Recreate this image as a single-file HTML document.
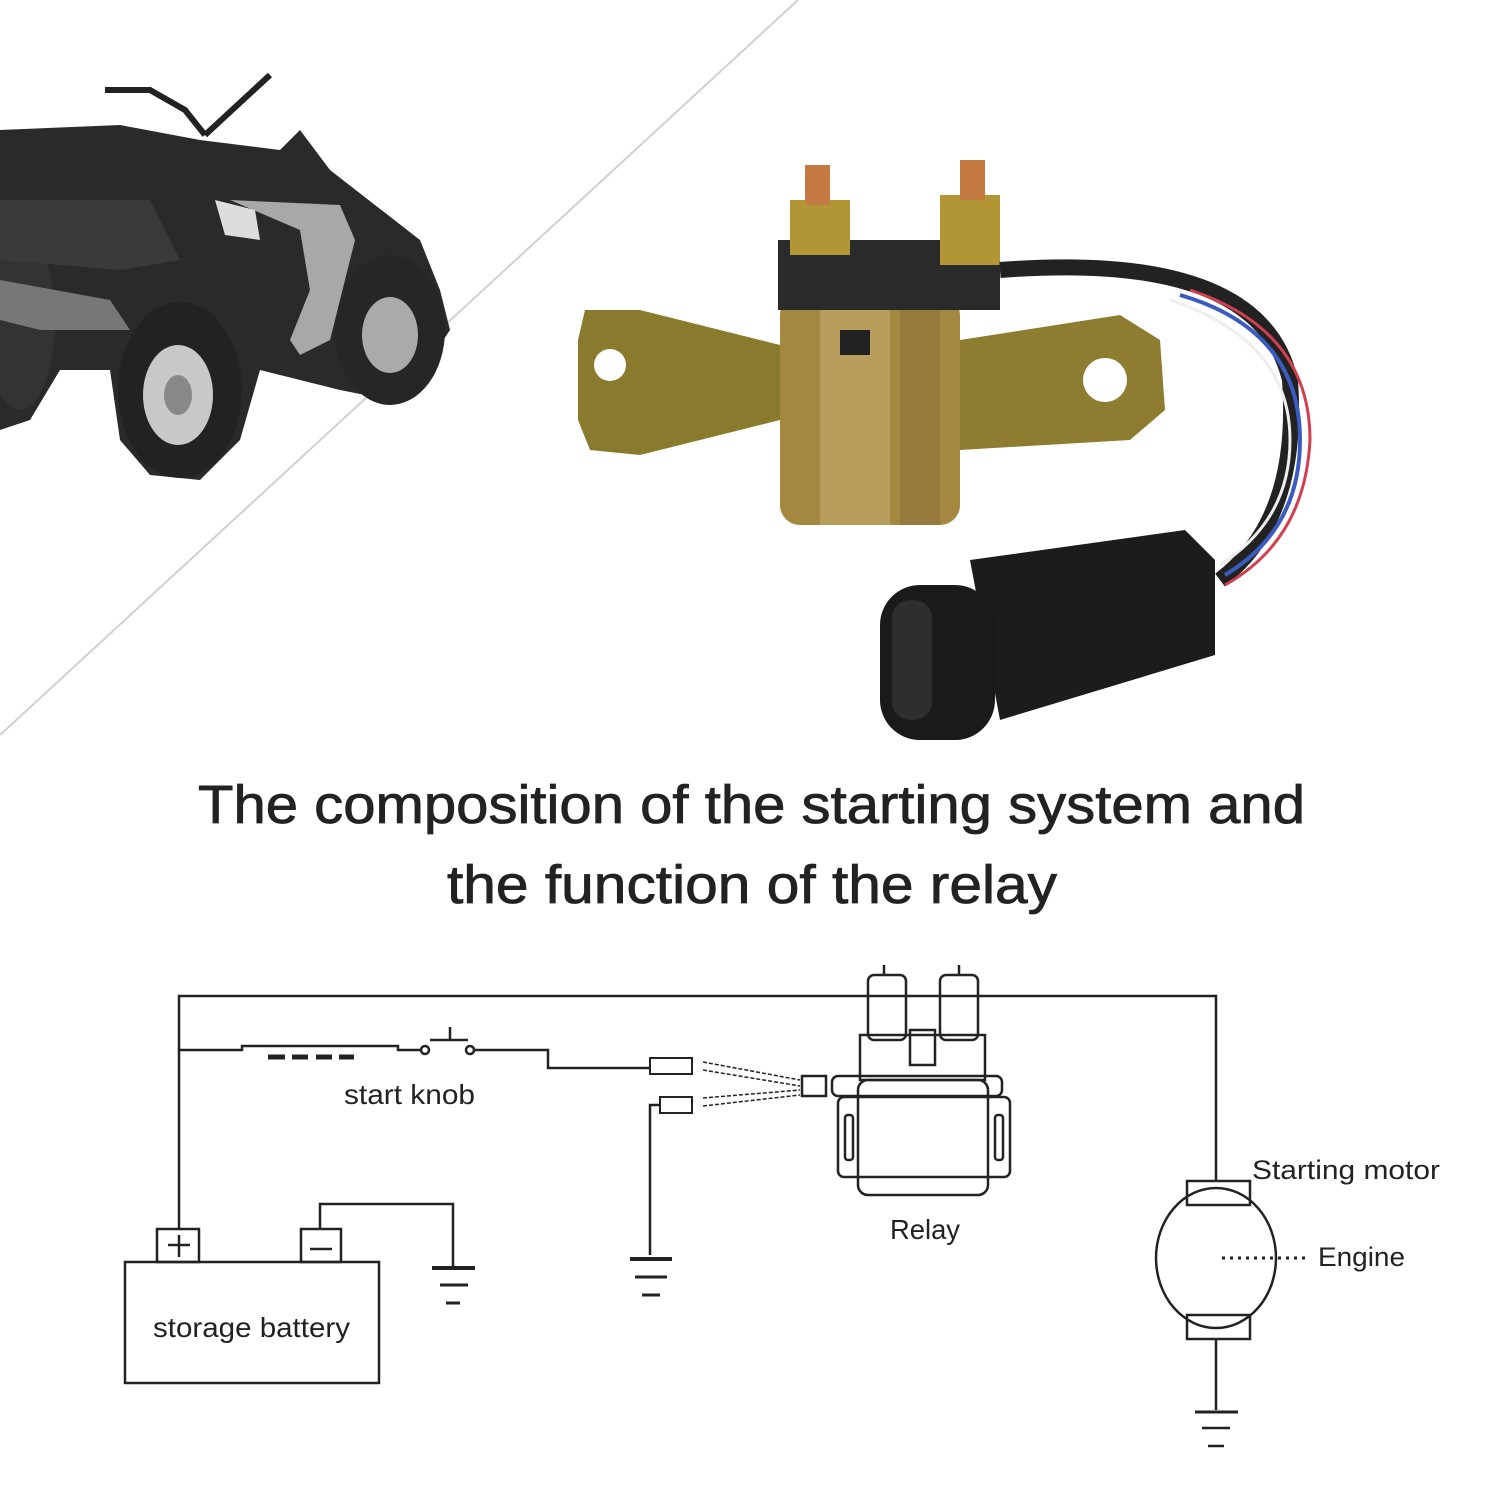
<!DOCTYPE html>
<html><head><meta charset="utf-8"><style>
html,body{margin:0;padding:0;background:#fff;}
svg{display:block;}
text{font-family:"Liberation Sans","DejaVu Sans",sans-serif;fill:#222;}
</style></head><body>
<svg width="1500" height="1500" viewBox="0 0 1500 1500" xmlns="http://www.w3.org/2000/svg">
<rect width="1500" height="1500" fill="#fff"/>
<line x1="0" y1="735" x2="798" y2="0" stroke="#d0d0d0" stroke-width="2"/>
<!-- ATV approximation -->
<g>
<path d="M0 130 L120 125 L200 140 L280 150 L300 130 L330 170 L420 240 L440 290 L450 330 L430 360 L390 400 L340 390 L260 370 L240 440 L200 480 L150 475 L120 440 L110 370 L60 370 L30 420 L0 430 Z" fill="#2a2a2a"/>
<ellipse cx="180" cy="390" rx="62" ry="88" fill="#222"/>
<ellipse cx="178" cy="395" rx="35" ry="50" fill="#c8c8c8"/>
<ellipse cx="178" cy="395" rx="14" ry="20" fill="#888"/>
<ellipse cx="390" cy="330" rx="55" ry="75" fill="#262626"/>
<ellipse cx="390" cy="335" rx="28" ry="38" fill="#aaa"/>
<ellipse cx="20" cy="320" rx="35" ry="90" fill="#333"/>
<path d="M230 200 L300 230 L310 290 L290 340 L300 355 L330 340 L355 240 L340 205 Z" fill="#a8a8a8"/>
<path d="M215 200 L255 210 L260 240 L225 235 Z" fill="#ddd"/>
<path d="M0 280 L110 300 L130 330 L40 330 L0 320 Z" fill="#777"/>
<path d="M105 90 L150 90 L185 110 L205 135 M205 135 L270 75" stroke="#222" stroke-width="6" fill="none"/>
<path d="M0 200 L150 200 L180 260 L120 270 L0 260 Z" fill="#3a3a3a"/>
</g>
<!-- Relay photo -->
<g>
<path d="M585 310 L640 310 L780 345 L780 420 L640 455 L590 450 L578 420 L578 340 Z" fill="#8a7a2e"/>
<circle cx="610" cy="365" r="16" fill="#fff"/>
<path d="M960 340 L1120 315 L1160 340 L1165 410 L1130 440 L960 450 Z" fill="#8e7d30"/>
<circle cx="1105" cy="380" r="22" fill="#fff"/>
<rect x="780" y="295" width="180" height="230" rx="20" fill="#a4883f"/>
<rect x="820" y="300" width="70" height="225" fill="#c2a66a" opacity=".7"/>
<rect x="900" y="300" width="40" height="225" fill="#8a6a3a" opacity=".5"/>
<rect x="778" y="240" width="222" height="70" fill="#2a2a2a"/>
<rect x="790" y="200" width="60" height="55" fill="#b29535"/>
<rect x="940" y="195" width="60" height="70" fill="#b29535"/>
<rect x="805" y="165" width="25" height="40" fill="#c47a40"/>
<rect x="960" y="160" width="25" height="40" fill="#c47a40"/>
<rect x="840" y="330" width="30" height="25" fill="#222"/>
<path d="M1000 270 Q1260 250 1290 380 Q1300 520 1220 580" stroke="#222" stroke-width="16" fill="none"/>
<path d="M1180 295 Q1300 330 1300 440 Q1300 530 1225 575" stroke="#3a5cc0" stroke-width="4" fill="none"/>
<path d="M1190 290 Q1310 330 1310 440 Q1305 540 1225 585" stroke="#d04050" stroke-width="3" fill="none"/>
<path d="M1170 300 Q1290 340 1290 440 Q1290 520 1220 565" stroke="#eee" stroke-width="3" fill="none"/>
<path d="M970 560 L1185 530 L1215 560 L1215 655 L1000 720 Z" fill="#1c1c1c"/>
<rect x="880" y="585" width="115" height="155" rx="40" fill="#1a1a1a"/>
<rect x="892" y="600" width="40" height="120" rx="18" fill="#2e2e2e"/>
</g>
<!-- title -->
<text x="198" y="823" font-size="54" textLength="1107" lengthAdjust="spacingAndGlyphs" stroke="#222" stroke-width="0.8">The composition of the starting system and</text>
<text x="447" y="903" font-size="54" textLength="610" lengthAdjust="spacingAndGlyphs" stroke="#222" stroke-width="0.8">the function of the relay</text>
<!-- circuit -->
<g stroke="#222" stroke-width="2.5" fill="none">
<path d="M179 1230 L179 996 L1216 996 L1216 1180"/>
<path d="M179 1050 L242 1050 L242 1046 L398 1046 L398 1050 L422 1050"/>
<circle cx="425" cy="1050" r="4" fill="#fff"/>
<circle cx="470" cy="1050" r="4" fill="#fff"/>
<path d="M430 1040 L468 1040 M450 1040 L450 1027"/>
<path d="M474 1050 L548 1050 L548 1068 L650 1068"/>
<path d="M650 1255 L650 1105 L660 1105"/>
<path d="M630 1259 L672 1259" stroke-width="4"/>
<path d="M635 1277 L667 1277 M642 1295 L660 1295" stroke-width="3"/>
<path d="M320 1228 L320 1204 L453 1204 L453 1268"/>
<path d="M432 1268 L475 1268" stroke-width="4"/>
<path d="M440 1285 L468 1285 M446 1303 L460 1303" stroke-width="3"/>
<rect x="125" y="1262" width="254" height="121"/>
<rect x="157" y="1229" width="42" height="33"/>
<rect x="301" y="1229" width="40" height="33"/>
<path d="M168 1245 L190 1245 M179 1235 L179 1257"/>
<path d="M310 1249 L332 1249"/>
<rect x="860" y="1035" width="125" height="45"/>
<rect x="838" y="1097" width="172" height="80" rx="6"/>
<rect x="858" y="1080" width="130" height="115" rx="10"/>
<rect x="845" y="1115" width="8" height="45" rx="3"/>
<rect x="995" y="1115" width="8" height="45" rx="3"/>
<rect x="832" y="1076" width="170" height="20" rx="6"/>
<rect x="802" y="1076" width="24" height="20"/>
<rect x="868" y="975" width="38" height="65" rx="6"/>
<rect x="940" y="975" width="38" height="65" rx="6"/>
<path d="M884 965 L884 975 M959 965 L959 975"/>
<rect x="910" y="1030" width="25" height="35"/>
<path d="M703 1062 L800 1080 M703 1070 L800 1086 M703 1098 L800 1090 M703 1106 L800 1095" stroke-width="1.5" stroke-dasharray="4 2"/>
<rect x="650" y="1058" width="42" height="16" stroke-width="2"/>
<rect x="660" y="1097" width="32" height="16" stroke-width="2"/>
<path d="M1216 1340 L1216 1410"/>
<path d="M1195 1412 L1238 1412" stroke-width="3"/>
<path d="M1202 1428 L1230 1428 M1208 1446 L1224 1446" stroke-width="2.5"/>
<rect x="1187" y="1181" width="63" height="24"/>
<rect x="1187" y="1315" width="63" height="24"/>
<ellipse cx="1216" cy="1258" rx="60" ry="70"/>
<path d="M1222 1258 L1310 1258" stroke-dasharray="3 5" stroke-width="3"/>
</g>
<g stroke="#222" stroke-width="5">
<path d="M268 1057 L285 1057 M292 1057 L308 1057 M316 1057 L332 1057 M339 1057 L354 1057"/>
</g>
<text x="344" y="1104" font-size="28" textLength="131" lengthAdjust="spacingAndGlyphs">start knob</text>
<text x="890" y="1239" font-size="28" textLength="70" lengthAdjust="spacingAndGlyphs">Relay</text>
<text x="1252" y="1179" font-size="27" textLength="188" lengthAdjust="spacingAndGlyphs">Starting motor</text>
<text x="1318" y="1266" font-size="27" textLength="87" lengthAdjust="spacingAndGlyphs">Engine</text>
<text x="153" y="1337" font-size="28" textLength="197" lengthAdjust="spacingAndGlyphs">storage battery</text>
</svg>
</body></html>
